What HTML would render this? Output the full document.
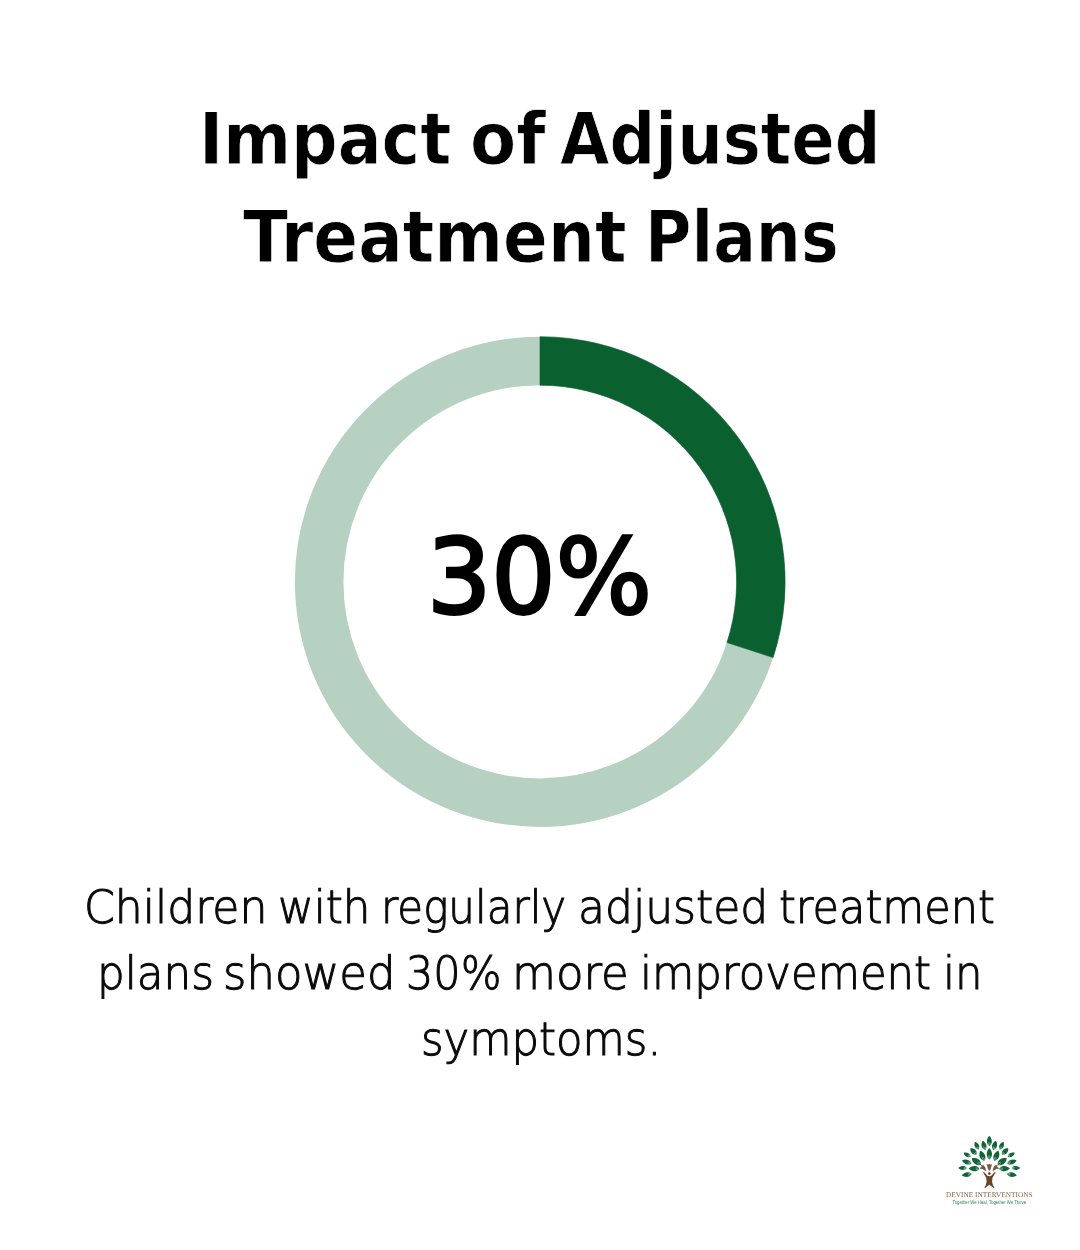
<!DOCTYPE html>
<html lang="en">
<head>
<meta charset="utf-8">
<title>Impact of Adjusted Treatment Plans</title>
<style>
  html, body { margin: 0; padding: 0; background: #ffffff; }
  body { width: 1080px; height: 1250px; position: relative; overflow: hidden; text-rendering: geometricPrecision;
         font-family: "DejaVu Sans", "Liberation Sans", sans-serif; }
  .w { position: absolute; white-space: nowrap; transform-origin: 0 0; display: block; }
  h1, p, .pct { margin: 0; padding: 0; position: absolute; left: 0; top: 0; width: 1080px; height: 0; }
  h1 { font-family: "DejaVu Sans", "Liberation Sans", sans-serif; font-weight: 700;
        font-size: 72px; line-height: 98px; color: #000; -webkit-text-stroke: 0.8px #fff; }
  .pct { font-family: "DejaVu Sans", "Liberation Sans", sans-serif; font-weight: 400;
        font-size: 104px; line-height: 130px; color: #000; -webkit-text-stroke: 3px #000; }
  p { font-family: "DejaVu Sans", "Liberation Sans", sans-serif; font-weight: 200;
        font-size: 45.8px; line-height: 66px; color: #0a0a0a; -webkit-text-stroke: 1.05px #0a0a0a; }
  #donut { position: absolute; left: 0; top: 0; }
  #logo { position: absolute; left: 0; top: 0; }
</style>
</head>
<body>
<h1>
  <span class="w" style="left:198.75px;top:90px;transform:scaleX(0.9040)">Impact</span>
  <span class="w" style="left:469.77px;top:90px;transform:scaleX(0.9339)">of</span>
  <span class="w" style="left:559.94px;top:90px;transform:scaleX(0.8880)">Adjusted</span>
  <span class="w" style="left:242.52px;top:188px;transform:scaleX(0.9173)">Treatment</span>
  <span class="w" style="left:644.95px;top:188px;transform:scaleX(0.8797)">Plans</span>
</h1>
<svg id="donut" width="1080" height="1250" viewBox="0 0 1080 1250">
  <circle cx="540" cy="581.8" r="220.85" fill="none" stroke="#b6d0c1" stroke-width="48.50"/>
  <path d="M 540 336.70 A 245.10 245.10 0 0 1 773.10 657.54 L 726.98 642.55 A 196.60 196.60 0 0 0 540 385.20 Z" fill="#0b6030" stroke="#0b6030" stroke-width="0.6" stroke-linejoin="round"/>
</svg>
<div class="pct">
  <span class="w" style="left:427.04px;top:512px;transform:scaleX(0.9725)">30%</span>
</div>
<p>
  <span class="w" style="left:83.69px;top:874px;transform:scaleX(0.9625)">Children</span>
  <span class="w" style="left:277.96px;top:874px;transform:scaleX(0.9521)">with</span>
  <span class="w" style="left:381.14px;top:874px;transform:scaleX(0.9169)">regularly</span>
  <span class="w" style="left:578.27px;top:874px;transform:scaleX(0.9615)">adjusted</span>
  <span class="w" style="left:778.86px;top:874px;transform:scaleX(0.9394)">treatment</span>
  <span class="w" style="left:96.54px;top:940px;transform:scaleX(0.9528)">plans</span>
  <span class="w" style="left:223.43px;top:940px;transform:scaleX(0.9819)">showed</span>
  <span class="w" style="left:405.89px;top:940px;transform:scaleX(0.9376)">30%</span>
  <span class="w" style="left:512.05px;top:940px;transform:scaleX(0.9850)">more</span>
  <span class="w" style="left:639.95px;top:940px;transform:scaleX(0.9474)">improvement</span>
  <span class="w" style="left:943.19px;top:940px;transform:scaleX(0.9474)">in</span>
  <span class="w" style="left:420.94px;top:1006px;transform:scaleX(0.9469)">symptoms.</span>
</p>
<svg id="logo" width="1080" height="1250" viewBox="0 0 1080 1250" role="img" aria-label="Devine Interventions logo">
  <g fill="#0f6536">
    <path transform="translate(989.35 1140.69) rotate(0)" d="M0,-4.96 C2.29,-2.73 3.82,1.49 0.67,4.81 L0,5.16 L-0.67,4.81 C-3.82,1.49 -2.29,-2.73 0,-4.96Z"/>
    <path transform="translate(983.84 1145.23) rotate(-15)" d="M0,-4.63 C2.29,-2.55 3.82,1.39 0.67,4.49 L0,4.81 L-0.67,4.49 C-3.82,1.39 -2.29,-2.55 0,-4.63Z"/>
    <path transform="translate(994.67 1145.23) rotate(15)" d="M0,-4.63 C2.29,-2.55 3.82,1.39 0.67,4.49 L0,4.81 L-0.67,4.49 C-3.82,1.39 -2.29,-2.55 0,-4.63Z"/>
    <path transform="translate(976.71 1145.56) rotate(-25)" d="M0,-4.13 C2.01,-2.27 3.35,1.24 0.59,4.01 L0,4.30 L-0.59,4.01 C-3.35,1.24 -2.01,-2.27 0,-4.13Z"/>
    <path transform="translate(1001.67 1145.56) rotate(25)" d="M0,-4.13 C2.01,-2.27 3.35,1.24 0.59,4.01 L0,4.30 L-0.59,4.01 C-3.35,1.24 -2.01,-2.27 0,-4.13Z"/>
    <path transform="translate(973.34 1151.39) rotate(-45)" d="M0,-4.30 C2.29,-2.36 3.82,1.29 0.67,4.17 L0,4.47 L-0.67,4.17 C-3.82,1.29 -2.29,-2.36 0,-4.30Z"/>
    <path transform="translate(1005.23 1151.39) rotate(45)" d="M0,-4.30 C2.29,-2.36 3.82,1.29 0.67,4.17 L0,4.47 L-0.67,4.17 C-3.82,1.29 -2.29,-2.36 0,-4.30Z"/>
    <path transform="translate(966.99 1154.63) rotate(-60)" d="M0,-3.97 C1.86,-2.18 3.11,1.19 0.55,3.85 L0,4.13 L-0.55,3.85 C-3.11,1.19 -1.86,-2.18 0,-3.97Z"/>
    <path transform="translate(1011.39 1154.63) rotate(60)" d="M0,-3.97 C1.86,-2.18 3.11,1.19 0.55,3.85 L0,4.13 L-0.55,3.85 C-3.11,1.19 -1.86,-2.18 0,-3.97Z"/>
    <path transform="translate(966.54 1161.89) rotate(-72)" d="M0,-4.79 C2.15,-2.64 3.59,1.44 0.63,4.65 L0,4.98 L-0.63,4.65 C-3.59,1.44 -2.15,-2.64 0,-4.79Z"/>
    <path transform="translate(1012.04 1161.89) rotate(72)" d="M0,-4.79 C2.15,-2.64 3.59,1.44 0.63,4.65 L0,4.98 L-0.63,4.65 C-3.59,1.44 -2.15,-2.64 0,-4.79Z"/>
    <path transform="translate(962.45 1168.05) rotate(-90)" d="M0,-4.13 C1.86,-2.27 3.11,1.24 0.55,4.01 L0,4.30 L-0.55,4.01 C-3.11,1.24 -1.86,-2.27 0,-4.13Z"/>
    <path transform="translate(1016.06 1168.05) rotate(90)" d="M0,-4.13 C1.86,-2.27 3.11,1.24 0.55,4.01 L0,4.30 L-0.55,4.01 C-3.11,1.24 -1.86,-2.27 0,-4.13Z"/>
    <path transform="translate(966.54 1174.72) rotate(-100)" d="M0,-4.79 C2.15,-2.64 3.59,1.44 0.63,4.65 L0,4.98 L-0.63,4.65 C-3.59,1.44 -2.15,-2.64 0,-4.79Z"/>
    <path transform="translate(1012.04 1174.72) rotate(100)" d="M0,-4.79 C2.15,-2.64 3.59,1.44 0.63,4.65 L0,4.98 L-0.63,4.65 C-3.59,1.44 -2.15,-2.64 0,-4.79Z"/>
    <path transform="translate(989.35 1153.66) rotate(0)" d="M0,-5.62 C2.44,-3.09 4.06,1.69 0.72,5.45 L0,5.84 L-0.72,5.45 C-4.06,1.69 -2.44,-3.09 0,-5.62Z"/>
    <path transform="translate(982.22 1155.60) rotate(-22)" d="M0,-5.29 C2.58,-2.91 4.30,1.59 0.76,5.13 L0,5.50 L-0.76,5.13 C-4.30,1.59 -2.58,-2.91 0,-5.29Z"/>
    <path transform="translate(996.48 1155.60) rotate(22)" d="M0,-5.29 C2.58,-2.91 4.30,1.59 0.76,5.13 L0,5.50 L-0.76,5.13 C-4.30,1.59 -2.58,-2.91 0,-5.29Z"/>
    <path transform="translate(976.26 1161.44) rotate(-55)" d="M0,-5.45 C2.72,-3.00 4.54,1.64 0.80,5.29 L0,5.67 L-0.80,5.29 C-4.54,1.64 -2.72,-3.00 0,-5.45Z"/>
    <path transform="translate(1002.31 1161.44) rotate(55)" d="M0,-5.45 C2.72,-3.00 4.54,1.64 0.80,5.29 L0,5.67 L-0.80,5.29 C-4.54,1.64 -2.72,-3.00 0,-5.45Z"/>
    <path transform="translate(973.93 1168.69) rotate(-88)" d="M0,-5.29 C2.44,-2.91 4.06,1.59 0.72,5.13 L0,5.50 L-0.72,5.13 C-4.06,1.59 -2.44,-2.91 0,-5.29Z"/>
    <path transform="translate(1004.58 1168.69) rotate(88)" d="M0,-5.29 C2.44,-2.91 4.06,1.59 0.72,5.13 L0,5.50 L-0.72,5.13 C-4.06,1.59 -2.44,-2.91 0,-5.29Z"/>
  </g>
  <g stroke="#ffffff" stroke-width="0.5" stroke-linecap="butt" fill="none" opacity="0.8">
    <path transform="translate(989.35 1140.69) rotate(0)" d="M-0.88,4.86 L-0.52,1.46 M0.88,4.86 L0.52,1.94"/>
    <path transform="translate(983.84 1145.23) rotate(-15)" d="M-0.88,4.54 L-0.52,1.36 M0.88,4.54 L0.52,1.81"/>
    <path transform="translate(994.67 1145.23) rotate(15)" d="M-0.88,4.54 L-0.52,1.36 M0.88,4.54 L0.52,1.81"/>
    <path transform="translate(976.71 1145.56) rotate(-25)" d="M-0.77,4.05 L-0.45,1.22 M0.77,4.05 L0.45,1.62"/>
    <path transform="translate(1001.67 1145.56) rotate(25)" d="M-0.77,4.05 L-0.45,1.22 M0.77,4.05 L0.45,1.62"/>
    <path transform="translate(973.34 1151.39) rotate(-45)" d="M-0.88,4.21 L-0.52,1.26 M0.88,4.21 L0.52,1.69"/>
    <path transform="translate(1005.23 1151.39) rotate(45)" d="M-0.88,4.21 L-0.52,1.26 M0.88,4.21 L0.52,1.69"/>
    <path transform="translate(966.99 1154.63) rotate(-60)" d="M-0.72,3.89 L-0.42,1.17 M0.72,3.89 L0.42,1.56"/>
    <path transform="translate(1011.39 1154.63) rotate(60)" d="M-0.72,3.89 L-0.42,1.17 M0.72,3.89 L0.42,1.56"/>
    <path transform="translate(966.54 1161.89) rotate(-72)" d="M-0.83,4.70 L-0.49,1.41 M0.83,4.70 L0.49,1.88"/>
    <path transform="translate(1012.04 1161.89) rotate(72)" d="M-0.83,4.70 L-0.49,1.41 M0.83,4.70 L0.49,1.88"/>
    <path transform="translate(962.45 1168.05) rotate(-90)" d="M-0.72,4.05 L-0.42,1.22 M0.72,4.05 L0.42,1.62"/>
    <path transform="translate(1016.06 1168.05) rotate(90)" d="M-0.72,4.05 L-0.42,1.22 M0.72,4.05 L0.42,1.62"/>
    <path transform="translate(966.54 1174.72) rotate(-100)" d="M-0.83,4.70 L-0.49,1.41 M0.83,4.70 L0.49,1.88"/>
    <path transform="translate(1012.04 1174.72) rotate(100)" d="M-0.83,4.70 L-0.49,1.41 M0.83,4.70 L0.49,1.88"/>
    <path transform="translate(989.35 1153.66) rotate(0)" d="M-0.94,5.51 L-0.55,1.65 M0.94,5.51 L0.55,2.20"/>
    <path transform="translate(982.22 1155.60) rotate(-22)" d="M-0.99,5.19 L-0.58,1.56 M0.99,5.19 L0.58,2.07"/>
    <path transform="translate(996.48 1155.60) rotate(22)" d="M-0.99,5.19 L-0.58,1.56 M0.99,5.19 L0.58,2.07"/>
    <path transform="translate(976.26 1161.44) rotate(-55)" d="M-1.05,5.35 L-0.62,1.60 M1.05,5.35 L0.62,2.14"/>
    <path transform="translate(1002.31 1161.44) rotate(55)" d="M-1.05,5.35 L-0.62,1.60 M1.05,5.35 L0.62,2.14"/>
    <path transform="translate(973.93 1168.69) rotate(-88)" d="M-0.94,5.19 L-0.55,1.56 M0.94,5.19 L0.55,2.07"/>
    <path transform="translate(1004.58 1168.69) rotate(88)" d="M-0.94,5.19 L-0.55,1.56 M0.94,5.19 L0.55,2.07"/>
  </g>
  <g fill="#6a4427">
    <circle cx="989.35" cy="1173.56" r="1.36"/>
    <polygon points="983.00,1172.00 984.30,1172.26 987.41,1175.69 989.35,1176.34 991.30,1175.69 994.41,1172.26 995.70,1172.00 995.31,1173.04 992.46,1177.64 992.07,1181.85 992.92,1185.09 994.41,1187.69 993.63,1188.07 989.35,1184.77 985.07,1188.07 984.30,1187.69 985.79,1185.09 986.63,1181.85 986.24,1177.64 983.39,1173.04"/>
    <polygon opacity="0.9" points="986.44,1163.70 988.06,1164.68 989.35,1163.70 990.65,1164.68 992.07,1163.70 990.52,1169.54 989.35,1170.70 988.19,1169.54"/>
    <polygon opacity="0.9" points="980.93,1165.32 983.84,1165.32 985.46,1167.92 986.11,1170.96 984.17,1170.19 982.55,1168.89 979.95,1168.76 980.28,1167.59 981.70,1167.07"/>
    <polygon opacity="0.9" points="997.78,1165.32 994.86,1165.32 993.24,1167.92 992.59,1170.96 994.54,1170.19 996.16,1168.89 998.75,1168.76 998.43,1167.59 997.00,1167.07"/>
  </g>
  <text x="989.3" y="1197.1" text-anchor="middle" font-family="'Liberation Serif', 'DejaVu Serif', serif" font-size="7.1" fill="#866449" text-rendering="geometricPrecision" textLength="86.6" lengthAdjust="spacingAndGlyphs">DEVINE INTERVENTIONS</text>
  <text x="989.3" y="1203.5" text-anchor="middle" font-family="'Liberation Sans', 'DejaVu Sans', sans-serif" font-size="5.3" fill="#2f7a4f" text-rendering="geometricPrecision" textLength="73.5" lengthAdjust="spacingAndGlyphs">Together We Heal, Together We Thrive</text>
</svg>
</body>
</html>
